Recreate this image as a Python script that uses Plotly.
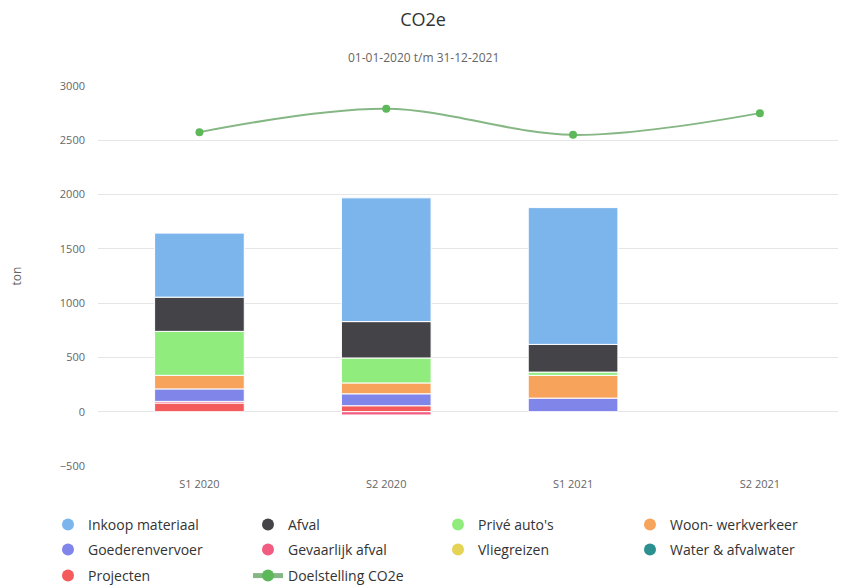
import plotly.graph_objects as go

categories = ["S1 2020", "S2 2020", "S1 2021", "S2 2021"]

series_names = ["Inkoop materiaal", "Afval", "Privé auto's", "Woon- werkverkeer",
                "Goederenvervoer", "Gevaarlijk afval", "Vliegreizen",
                "Water & afvalwater", "Projecten"]
series_colors = ["#7cb5ec", "#434348", "#90ed7d", "#f7a35c", "#8085e9",
                 "#f15c80", "#e4d354", "#2b908f", "#f45b5b"]

inkoop_materiaal = [590, 1140, 1260, None]
afval = [315, 335, 255, None]
prive_autos = [405, 230, 30, None]
woon_werkverkeer = [125, 100, 210, None]
goederenvervoer = [115, 110, 125, None]
gevaarlijk_afval = [15, -30, None, None]
vliegreizen = [None, None, None, None]
water_afvalwater = [None, None, None, None]
projecten = [80, 55, None, None]

doelstelling = [2575, 2790, 2550, 2750]

series_values = [inkoop_materiaal, afval, prive_autos, woon_werkverkeer,
                 goederenvervoer, gevaarlijk_afval, vliegreizen,
                 water_afvalwater, projecten]

fig = go.Figure()

# bars: first in list is on top of the stack -> add in reverse order
for name, color, vals in reversed(list(zip(series_names, series_colors, series_values))):
    fig.add_trace(go.Bar(
        x=categories, y=vals, name=name, marker_color=color,
        marker_line=dict(color="white", width=1), showlegend=False))

fig.add_trace(go.Scatter(
    x=categories, y=doelstelling, name="Doelstelling CO2e", mode="lines+markers",
    line=dict(color="#85b784", width=2, shape="spline", smoothing=1.0),
    marker=dict(color="#5db85a", size=8), showlegend=False))

# legend entries (circle symbols): one small legend per entry, 4 per row
col_x = [40, 240, 430, 622]
row_top = [501, 526, 552]
legend_layout = {}


def legend_slot(i):
    lid = "legend" if i == 0 else "legend%d" % (i + 1)
    legend_layout[lid] = dict(
        orientation="h", xref="container", yref="container",
        x=col_x[i % 4] / 846, y=1 - row_top[i // 4] / 588,
        xanchor="left", yanchor="top",
        font=dict(size=14, color="#333333"), itemsizing="constant",
        bgcolor="rgba(0,0,0,0)")
    return lid


for i, (name, color) in enumerate(zip(series_names, series_colors)):
    fig.add_trace(go.Scatter(
        x=[None], y=[None], name=name, mode="markers",
        marker=dict(color=color, size=12, symbol="circle"),
        legend=legend_slot(i), showlegend=True))
fig.add_trace(go.Scatter(
    x=[None], y=[None], name="Doelstelling CO2e", mode="lines+markers",
    line=dict(color="#85b784", width=2),
    marker=dict(color="#5db85a", size=7), legend=legend_slot(9), showlegend=True))

L, R, T, B = 90, 8, 78, 130
PW = 846 - L - R
PH = 588 - T - B

fig.update_layout(
    width=846, height=588,
    barmode="relative", bargap=0.52,
    font=dict(family="Open Sans, DejaVu Sans, sans-serif", color="#666666"),
    paper_bgcolor="white", plot_bgcolor="white",
    margin=dict(l=L, r=R, t=T, b=B),
    title=dict(text="CO2e", x=(415) / 846, xanchor="center", y=1 - 12 / 588, yanchor="middle",
               font=dict(size=18, color="#333333")),
    annotations=[dict(text="01-01-2020 t/m 31-12-2021", xref="paper", yref="paper",
                      x=(415 - L) / PW, y=(588 - B - 49) / PH, xanchor="center", yanchor="middle",
                      showarrow=False, font=dict(size=12, color="#666666"))],
    xaxis=dict(type="category", range=[-0.543, 3.461], showgrid=False,
               showline=False, ticks="", ticklabelstandoff=10,
               tickfont=dict(size=11, color="#666666")),
    yaxis=dict(range=[-500, 3000], dtick=500, gridcolor="#e6e6e6", gridwidth=1,
               zeroline=False, showline=False, ticks="", ticklabelstandoff=12,
               tickfont=dict(size=11, color="#666666"),
               title=dict(text="ton", font=dict(size=12, color="#666666"), standoff=36)),
    **legend_layout,
)

fig.write_html("out.html")
